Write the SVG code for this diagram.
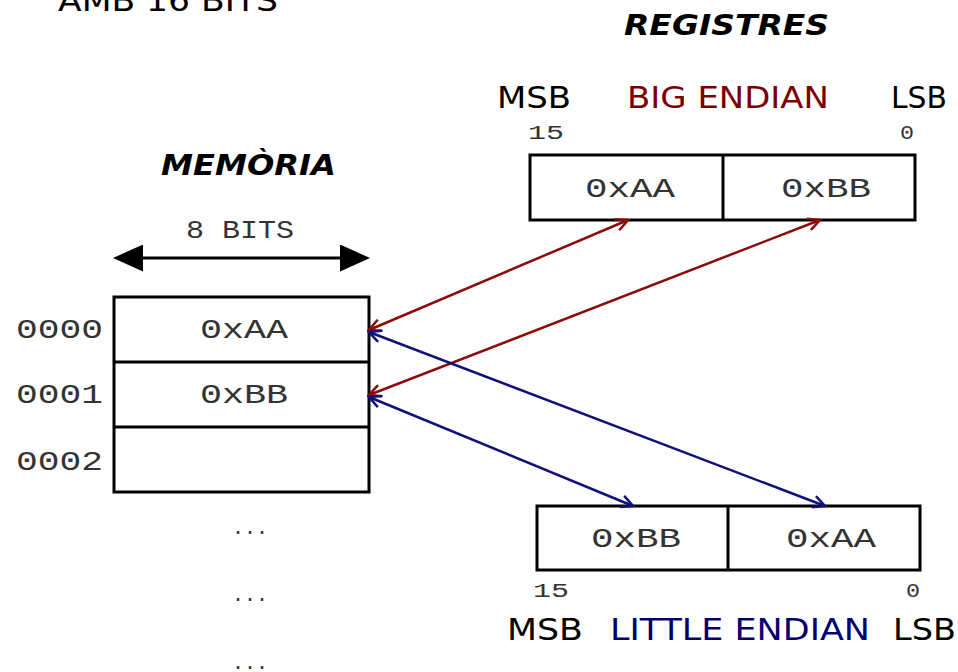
<svg xmlns="http://www.w3.org/2000/svg" width="958" height="672" viewBox="0 0 958 672">
<style>
.sans{font-family:"DejaVu Sans","Liberation Sans",sans-serif;font-size:31px;fill:#000}
.title{font-family:"DejaVu Sans","Liberation Sans",sans-serif;font-weight:bold;font-style:italic;font-size:27.5px;fill:#000}
.mono{font-family:"Liberation Mono","DejaVu Sans Mono",monospace;fill:#333}
.big{font-size:28px}
.mid{font-size:25px}
.sm{font-size:21px}
.box{fill:#fff;stroke:#000;stroke-width:3}
.div{stroke:#000;stroke-width:3}
.red{stroke:#8b0a0a;stroke-width:2.5;fill:none}
.blue{stroke:#10107a;stroke-width:2.5;fill:none}
</style>
<defs>
<marker id="ar" markerUnits="userSpaceOnUse" markerWidth="16" markerHeight="14" viewBox="0 0 16 14" refX="14" refY="7" orient="auto-start-reverse">
<path d="M2,1 L14,7 L2,13" fill="none" stroke="#8b0a0a" stroke-width="2.5"/>
</marker>
<marker id="ab" markerUnits="userSpaceOnUse" markerWidth="16" markerHeight="14" viewBox="0 0 16 14" refX="14" refY="7" orient="auto-start-reverse">
<path d="M2,1 L14,7 L2,13" fill="none" stroke="#10107a" stroke-width="2.5"/>
</marker>
<marker id="ak" markerUnits="userSpaceOnUse" markerWidth="30" markerHeight="27" viewBox="0 0 30 27" refX="0" refY="13.5" orient="auto-start-reverse">
<path d="M0,0 L30,13.5 L0,27 z" fill="#000"/>
</marker>
</defs>

<g id="title16">
<text class="sans" x="58" y="11" font-size="32" textLength="220" lengthAdjust="spacingAndGlyphs">AMB 16 BITS</text>
</g>

<g id="registres-title">
<text class="title" x="624" y="35" textLength="205" lengthAdjust="spacingAndGlyphs">REGISTRES</text>
</g>

<g id="memoria-title">
<text class="title" x="161" y="175" textLength="175" lengthAdjust="spacingAndGlyphs">MEMÒRIA</text>
</g>

<g id="width8">
<text class="mono mid" x="186" y="238" textLength="108" lengthAdjust="spacingAndGlyphs">8 BITS</text>
<path d="M143,258 L340,258" stroke="#000" stroke-width="3" marker-start="url(#ak)" marker-end="url(#ak)"/>
</g>

<g id="memory">
<rect class="box" x="114" y="297" width="255" height="195"/>
<line class="div" x1="114" y1="362" x2="369" y2="362"/>
<line class="div" x1="114" y1="427" x2="369" y2="427"/>
<text class="mono big" x="200" y="338" textLength="88" lengthAdjust="spacingAndGlyphs">0xAA</text>
<text class="mono big" x="200" y="403" textLength="88" lengthAdjust="spacingAndGlyphs">0xBB</text>
<text class="mono big" x="16" y="338" textLength="87" lengthAdjust="spacingAndGlyphs">0000</text>
<text class="mono big" x="16" y="403" textLength="87" lengthAdjust="spacingAndGlyphs">0001</text>
<text class="mono big" x="16" y="470" textLength="87" lengthAdjust="spacingAndGlyphs">0002</text>
<text class="mono sm" x="232" y="534" textLength="36" lengthAdjust="spacingAndGlyphs">...</text>
<text class="mono sm" x="232" y="601" textLength="36" lengthAdjust="spacingAndGlyphs">...</text>
<text class="mono sm" x="232" y="669" textLength="36" lengthAdjust="spacingAndGlyphs">...</text>
</g>

<g id="big-endian">
<text class="sans" x="497" y="108" textLength="74" lengthAdjust="spacingAndGlyphs">MSB</text>
<text class="sans" x="627" y="108" textLength="202" lengthAdjust="spacingAndGlyphs" style="fill:#7a0000">BIG ENDIAN</text>
<text class="sans" x="891" y="108" textLength="56" lengthAdjust="spacingAndGlyphs">LSB</text>
<text class="mono sm" x="528" y="139" textLength="36" lengthAdjust="spacingAndGlyphs">15</text>
<text class="mono sm" x="900" y="139" textLength="14" lengthAdjust="spacingAndGlyphs">0</text>
<rect class="box" x="530" y="155" width="385" height="65"/>
<line class="div" x1="723" y1="155" x2="723" y2="220"/>
<text class="mono big" x="585" y="197" textLength="90" lengthAdjust="spacingAndGlyphs">0xAA</text>
<text class="mono big" x="781" y="197" textLength="90" lengthAdjust="spacingAndGlyphs">0xBB</text>
</g>

<g id="little-endian">
<rect class="box" x="537" y="506" width="383" height="64"/>
<line class="div" x1="728" y1="506" x2="728" y2="570"/>
<text class="mono big" x="591" y="547" textLength="90" lengthAdjust="spacingAndGlyphs">0xBB</text>
<text class="mono big" x="786" y="547" textLength="90" lengthAdjust="spacingAndGlyphs">0xAA</text>
<text class="mono sm" x="533" y="597" textLength="36" lengthAdjust="spacingAndGlyphs">15</text>
<text class="mono sm" x="906" y="597" textLength="14" lengthAdjust="spacingAndGlyphs">0</text>
<text class="sans" x="507" y="640" textLength="76" lengthAdjust="spacingAndGlyphs">MSB</text>
<text class="sans" x="610" y="640" textLength="260" lengthAdjust="spacingAndGlyphs" style="fill:#000070">LITTLE ENDIAN</text>
<text class="sans" x="893" y="640" textLength="63" lengthAdjust="spacingAndGlyphs">LSB</text>
</g>

<g id="connectors">
<path class="red" d="M369,330 L628,220" marker-start="url(#ar)" marker-end="url(#ar)"/>
<path class="red" d="M369,395 L820,220" marker-start="url(#ar)" marker-end="url(#ar)"/>
<path class="blue" d="M369,332 L825,506" marker-start="url(#ab)" marker-end="url(#ab)"/>
<path class="blue" d="M369,397 L633,506" marker-start="url(#ab)" marker-end="url(#ab)"/>
</g>
</svg>
